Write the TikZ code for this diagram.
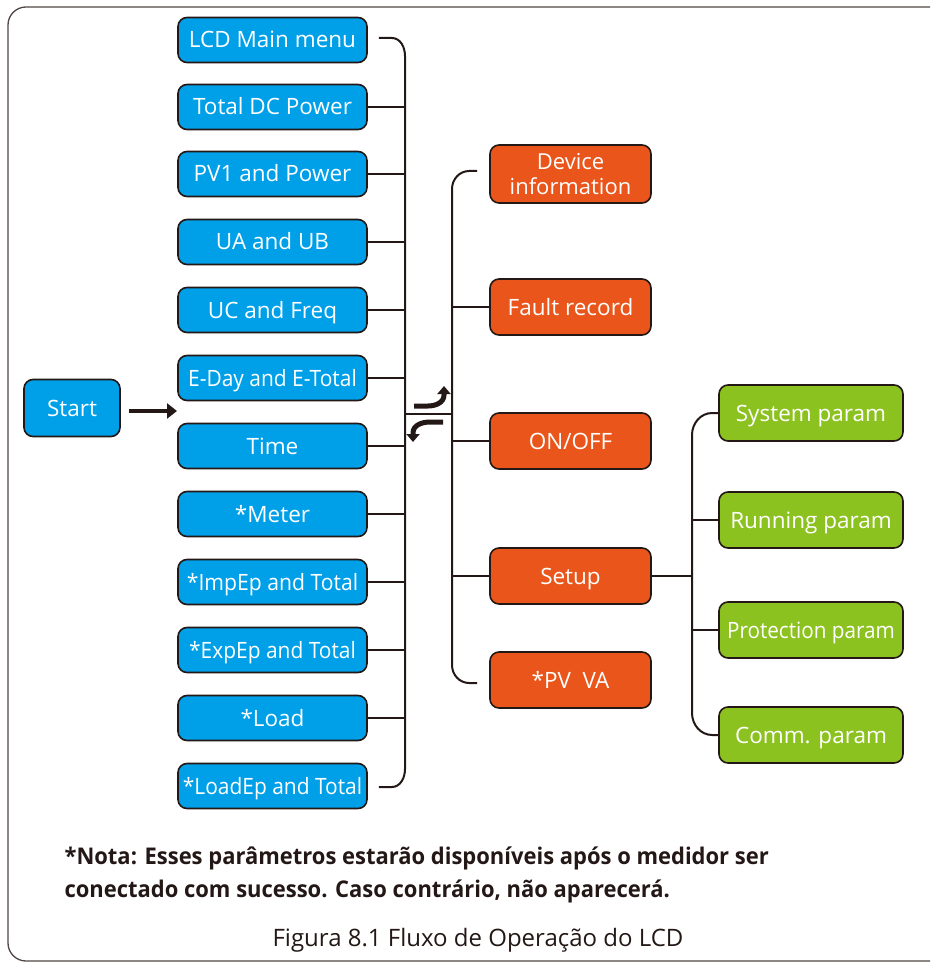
\documentclass[tikz,border=0pt]{standalone}
\usepackage{fontspec}
\setmainfont{Open Sans}
\usetikzlibrary{arrows.meta,calc}
\definecolor{bluebox}{HTML}{00A0E9}
\definecolor{orangebox}{HTML}{E9551A}
\definecolor{greenbox}{HTML}{8CC21F}
\definecolor{ink}{HTML}{231815}
\begin{document}
\begin{tikzpicture}[x=1pt,y=-1pt,
  box/.style={draw=ink,line width=1.6pt,rounded corners=9pt,text=white,align=center,inner sep=0pt,font=\fontsize{22.5}{24}\selectfont},
  oneline/.style={text height=20pt,text depth=4pt},
  bluen/.style={box,oneline,fill=bluebox,minimum width=189pt,minimum height=45pt},
  orangen/.style={box,fill=orangebox,minimum width=161pt,minimum height=56pt},
  greenn/.style={box,oneline,fill=greenbox,minimum width=184pt,minimum height=56pt},
  conn/.style={draw=ink,line width=2pt},
  fatarrow/.style={draw=ink,line width=5pt,-{Triangle[length=8pt,width=13pt]}}]
\useasboundingbox (0,0) rectangle (930,965);
\clip (0,0) rectangle (930,965);
\draw[draw=ink!80,line width=1.3pt,rounded corners=18pt] (8,7) rectangle (950,961);
% start
\node[box,oneline,fill=bluebox,minimum width=96pt,minimum height=57pt] (start) at (72,408) {Start};
% blue column
\node[bluen] (b1) at (272.5,40) {LCD Main menu};
\node[bluen] (b2) at (272.5,107) {Total DC Power};
\node[bluen] (b3) at (272.5,174) {PV1 and Power};
\node[bluen] (b4) at (272.5,242) {UA and UB};
\node[bluen] (b5) at (272.5,310) {UC and Freq};
\node[bluen] (b6) at (272.5,378) {\scalebox{0.93}[1]{E-Day and E-Total}};
\node[bluen] (b7) at (272.5,446) {Time};
\node[bluen] (b8) at (272.5,514) {*Meter};
\node[bluen] (b9) at (272.5,582) {\scalebox{0.94}[1]{*ImpEp and Total}};
\node[bluen] (b10) at (272.5,650) {\scalebox{0.93}[1]{*ExpEp and Total}};
\node[bluen] (b11) at (272.5,718) {*Load};
\node[bluen] (b12) at (272.5,786) {\scalebox{0.93}[1]{*LoadEp and Total}};
% orange column
\node[orangen,minimum height=58pt,font=\fontsize{22}{25}\selectfont] (o1) at (570.5,174) {Device\\information};
\node[orangen,oneline] (o2) at (570.5,307) {Fault record};
\node[orangen,oneline] (o3) at (570.5,441) {ON/OFF};
\node[orangen,oneline] (o4) at (570.5,576) {Setup};
\node[orangen,oneline] (o5) at (570.5,680) {*PV\ \ VA};
% green column
\node[greenn] (g1) at (811,413) {System param};
\node[greenn] (g2) at (811,520) {Running param};
\node[greenn] (g3) at (811,630) {\scalebox{0.92}[1]{Protection param}};
\node[greenn] (g4) at (811,735) {Comm. param};
% bus coordinates
\coordinate (busL) at (405,0);
\coordinate (busM) at (452,0);
\coordinate (busR) at (692,0);
% left bus
\coordinate (lt) at ($(b1.east)+(11,-2)$);
\coordinate (lb) at ($(b12.east)+(11,1)$);
\draw[conn] (lt) -- ++(13,0) to[out=0,in=90] ($(lt -| busL)+(0,18)$) -- ($(lb -| busL)+(0,-18)$) to[out=-90,in=0] ($(lb)+(13,0)$) -- (lb);
\foreach \i in {2,...,11}{\draw[conn] (b\i.east) -- (b\i.east -| busL);}
% middle link
\coordinate (mid) at (405,414);
\draw[conn] (mid) -- (mid -| busM);
% middle bus
\coordinate (mt) at ($(o1.west)+(-12,-3)$);
\coordinate (mb) at ($(o5.west)+(-12,3)$);
\draw[conn] (mt) -- ++(-8,0) to[out=180,in=90] ($(mt -| busM)+(0,18)$) -- ($(mb -| busM)+(0,-18)$) to[out=-90,in=180] ($(mb)+(-8,0)$) -- (mb);
\foreach \i in {2,3,4}{\draw[conn] (o\i.west) -- (o\i.west -| busM);}
% transfer arrows
\coordinate (au) at (414,406);
\coordinate (aut) at (444,386);
\coordinate (ad) at (443,422);
\coordinate (adt) at (413,442);
\draw[fatarrow] (au) -- (428,406) to[out=0,in=-90] (444,395) -- (aut);
\draw[fatarrow] (ad) -- (430,422) to[out=180,in=90] (413,433) -- (adt);
% start arrow
\coordinate (sa) at (177,411);
\draw[draw=ink,line width=4.5pt,-{Triangle[length=10pt,width=15pt]}] ($(start.east)+(8,3)$) -- (sa);
% right bus
\coordinate (rt) at (g1.west);
\coordinate (rb) at (g4.west);
\draw[conn] (rt) -- ++(-6,0) to[out=180,in=90] ($(rt -| busR)+(0,22)$) -- ($(rb -| busR)+(0,-22)$) to[out=-90,in=180] ($(rb)+(-6,0)$) -- (rb);
\draw[conn] (o4.east) -- (o4.east -| busR);
\foreach \i in {2,3}{\draw[conn] (g\i.west) -- (g\i.west -| busR);}
% notes
\node[anchor=west,text=ink,font=\bfseries\fontsize{23}{24}\selectfont] (n1) at (61,858) {\scalebox{0.955}[1]{*Nota: Esses parâmetros estarão disponíveis após o medidor ser}};
\node[anchor=west,text=ink,font=\bfseries\fontsize{23}{24}\selectfont] (n2) at (61,891) {\scalebox{0.955}[1]{conectado com sucesso. Caso contrário, não aparecerá.}};
\node[text=ink,font=\fontsize{24}{25}\selectfont] (cap) at (478,940) {Figura 8.1 Fluxo de Operação do LCD};
\end{tikzpicture}
\end{document}
